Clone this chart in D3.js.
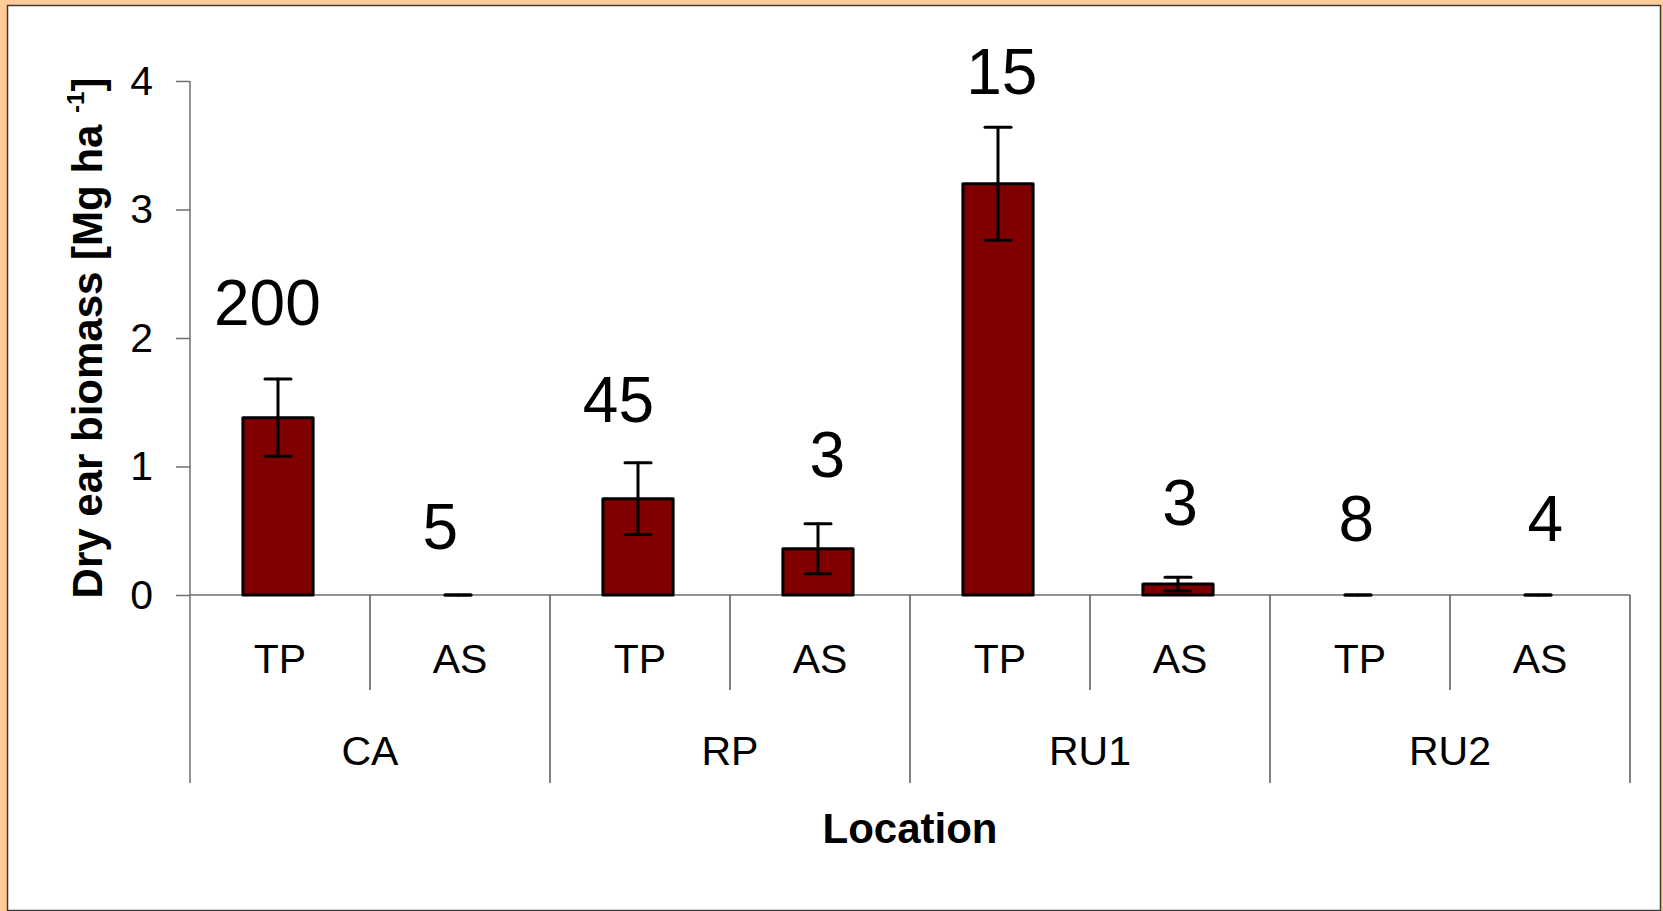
<!DOCTYPE html>
<html>
<head>
<meta charset="utf-8">
<script src="https://cdn.jsdelivr.net/npm/d3@7"></script>
<style>
  html, body { margin: 0; padding: 0; background: #FFCC99; }
  svg { display: block; }
  text { font-family: "Liberation Sans", Arial, Helvetica, sans-serif; fill: #000; }
</style>
</head>
<body>
<svg id="chart" width="1663" height="911"></svg>
<script>
// Locations and the two treatments measured at each
const locations = ["CA", "RP", "RU1", "RU2"];
const treatments = ["TP", "AS"];

// Mean dry ear biomass (Mg/ha) per location x treatment, in plotting order
const biomass = [1.38, 0, 0.75, 0.36, 3.20, 0.085, 0, 0];
// Error (+/-) around each mean
const biomassErr = [0.30, 0, 0.28, 0.195, 0.44, 0.053, 0, 0];

// Sample counts written above each column
const sampleCounts = ["200", "5", "45", "3", "15", "3", "8", "4"];
// Anchors of those count labels, in axis units (baseline value, shift in column widths)
const countLabelValue = [2.10, 0.36, 1.35, 0.92, 3.90, 0.545, 0.42, 0.42];
const countLabelShift = [-0.07, -0.11, -0.12, 0.04, 0.01, 0.0, -0.02, 0.03];

// Y-axis ticks
const yTicks = [0, 1, 2, 3, 4];

const svg = d3.select("#chart");

// White chart area with a thin dark frame
svg.append("rect")
  .attr("x", 7.5).attr("y", 5.5)
  .attr("width", 1653).attr("height", 905)
  .attr("fill", "#fff").attr("stroke", "#3a3a3a").attr("stroke-width", 1.5);

const plot = { left: 190, right: 1630, top: 81, zero: 595 };
const subLineBottom = 690;
const groupLineBottom = 783;

const columns = [];
locations.forEach(loc => treatments.forEach(t => columns.push({ loc, t })));
columns.forEach((c, i) => {
  c.i = i;
  c.value = biomass[i];
  c.err = biomassErr[i];
  c.count = sampleCounts[i];
  c.labelValue = countLabelValue[i];
  c.labelShift = countLabelShift[i];
});

const x = d3.scaleBand()
  .domain(d3.range(columns.length))
  .range([plot.left, plot.right])
  .paddingInner(0).paddingOuter(0);

const y = d3.scaleLinear().domain([0, 4]).range([plot.zero, plot.top]);

const axisColor = "#6f6f6f";

// Y axis with outside ticks
const yAxis = d3.axisLeft(y)
  .tickValues(yTicks)
  .tickFormat(d3.format("d"))
  .tickSize(14)
  .tickSizeOuter(0)
  .tickPadding(23);

const yAxisG = svg.append("g")
  .attr("transform", `translate(${plot.left},0)`)
  .call(yAxis);
yAxisG.select(".domain").remove();
yAxisG.selectAll(".tick line").attr("stroke", axisColor).attr("stroke-width", 1.5);
yAxisG.selectAll(".tick text")
  .style("font-size", "41px")
  .attr("fill", "#000");

// Vertical axis line, continuing down through the category rows
svg.append("line")
  .attr("x1", plot.left).attr("x2", plot.left)
  .attr("y1", y(4)).attr("y2", groupLineBottom)
  .attr("stroke", axisColor).attr("stroke-width", 1.5);

// Horizontal axis at zero
svg.append("line")
  .attr("x1", plot.left).attr("x2", plot.right)
  .attr("y1", y(0)).attr("y2", y(0))
  .attr("stroke", axisColor).attr("stroke-width", 1.5);

// Dividers between treatments and between locations
const boundaries = d3.range(1, columns.length + 1);
svg.append("g").selectAll("line")
  .data(boundaries)
  .join("line")
  .attr("x1", i => i === columns.length ? plot.right : x(i))
  .attr("x2", i => i === columns.length ? plot.right : x(i))
  .attr("y1", y(0))
  .attr("y2", i => i % treatments.length === 0 ? groupLineBottom : subLineBottom)
  .attr("stroke", "#4a4a4a").attr("stroke-width", 1.4);

// Treatment labels
svg.append("g").selectAll("text")
  .data(columns)
  .join("text")
  .attr("x", d => x(d.i) + x.bandwidth() / 2)
  .attr("y", 673)
  .attr("text-anchor", "middle")
  .style("font-size", "41px")
  .text(d => d.t);

// Location labels
svg.append("g").selectAll("text")
  .data(locations)
  .join("text")
  .attr("x", (d, k) => (x(k * 2) + x(k * 2 + 1) + x.bandwidth()) / 2)
  .attr("y", 765)
  .attr("text-anchor", "middle")
  .style("font-size", "41px")
  .text(d => d);

// Bars
const barW = x.bandwidth() * 0.39;
const nudge = -2;
const cx = d => x(d.i) + x.bandwidth() / 2 + nudge;

svg.append("g").selectAll("rect")
  .data(columns.filter(d => d.value > 0))
  .join("rect")
  .attr("x", d => cx(d) - barW / 2)
  .attr("y", d => y(d.value))
  .attr("width", barW)
  .attr("height", d => y(0) - y(d.value))
  .attr("fill", "#800000")
  .attr("stroke", "#000")
  .attr("stroke-width", 3)
  .attr("stroke-linejoin", "round");

// Error bars
const capHalf = 13;
const eb = svg.append("g").attr("stroke", "#000").attr("stroke-width", 3).attr("stroke-linecap", "round");
columns.forEach(d => {
  const hi = y(d.value + d.err), lo = y(Math.max(0, d.value - d.err));
  const c = cx(d);
  eb.append("line").attr("x1", c).attr("x2", c).attr("y1", hi).attr("y2", lo);
  eb.append("line").attr("x1", c - capHalf).attr("x2", c + capHalf).attr("y1", hi).attr("y2", hi);
  eb.append("line").attr("x1", c - capHalf).attr("x2", c + capHalf).attr("y1", lo).attr("y2", lo);
});

// Sample counts above the columns
svg.append("g").selectAll("text")
  .data(columns)
  .join("text")
  .attr("x", d => x(d.i) + x.bandwidth() * (0.5 + d.labelShift))
  .attr("y", d => y(d.labelValue))
  .attr("text-anchor", "middle")
  .style("font-size", "64px")
  .text(d => d.count);

// Y axis title with superscript unit exponent
const yTitle = svg.append("text")
  .attr("transform", `translate(102,${(plot.top + plot.zero) / 2}) rotate(-90)`)
  .attr("text-anchor", "middle")
  .style("font-size", "42px")
  .style("font-weight", "bold");
yTitle.append("tspan").text("Dry ear biomass [Mg ha ");
yTitle.append("tspan").attr("dy", -18).style("font-size", "24px").text("-1");
yTitle.append("tspan").attr("dy", 18).text("]");

// X axis title
svg.append("text")
  .attr("x", (plot.left + plot.right) / 2)
  .attr("y", 843)
  .attr("text-anchor", "middle")
  .style("font-size", "42px")
  .style("font-weight", "bold")
  .text("Location");
</script>
</body>
</html>
